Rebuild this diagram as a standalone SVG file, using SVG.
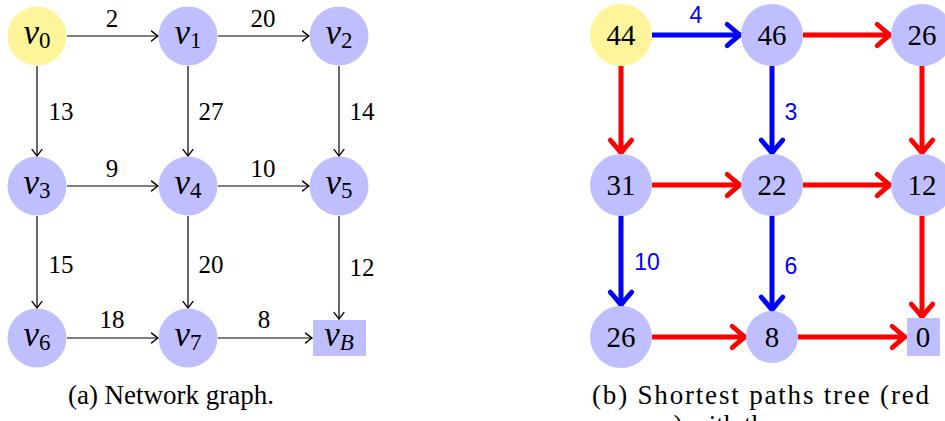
<svg xmlns="http://www.w3.org/2000/svg" width="945" height="421" viewBox="0 0 945 421">
<style>
.bg{fill:#ffffff}
.ny{fill:#fef59b}
.nb{fill:#bfbfff}
.e{stroke:#000;stroke-width:1.2;fill:none;marker-end:url(#ta)}
.r{stroke:#ff0000;stroke-width:5;fill:none;marker-end:url(#ra)}
.b{stroke:#0000ff;stroke-width:5;fill:none;marker-end:url(#ba)}
.lab{font-family:"Liberation Serif","Times New Roman",serif;font-size:25px;fill:#000;text-anchor:middle}
.v{font-family:"Liberation Serif","Times New Roman",serif;font-size:35px;font-style:italic;fill:#000;text-anchor:middle}
.sub{font-size:23px;font-style:normal}
.subi{font-size:23px;font-style:italic}
.num{font-family:"Liberation Serif","Times New Roman",serif;font-size:29px;fill:#000;text-anchor:middle}
.bl{font-family:"Liberation Sans","Arial",sans-serif;font-size:23px;fill:#0000ff;text-anchor:middle}
.cap{font-family:"Liberation Serif","Times New Roman",serif;font-size:27px;fill:#000}
</style>
<defs>
<marker id="ta" markerUnits="userSpaceOnUse" markerWidth="14" markerHeight="14" viewBox="-8 -6 10 12" refX="0" refY="0" orient="auto">
<path d="M-5.5,-4.2 Q-1.5,-1 0,0 Q-1.5,1 -5.5,4.2" fill="none" stroke="#000" stroke-width="1.2" stroke-linecap="round"/>
</marker>
<marker id="ra" markerUnits="userSpaceOnUse" markerWidth="30" markerHeight="30" viewBox="-16 -14 20 28" refX="0" refY="0" orient="auto">
<path d="M-12,-10 Q-4,-3 0,0 Q-4,3 -12,10" fill="none" stroke="#ff0000" stroke-width="4.5" stroke-linecap="round" stroke-linejoin="round"/>
</marker>
<marker id="ba" markerUnits="userSpaceOnUse" markerWidth="30" markerHeight="30" viewBox="-16 -14 20 28" refX="0" refY="0" orient="auto">
<path d="M-12,-10 Q-4,-3 0,0 Q-4,3 -12,10" fill="none" stroke="#0000ff" stroke-width="4.5" stroke-linecap="round" stroke-linejoin="round"/>
</marker>
</defs>
<rect class="bg" x="0" y="0" width="945" height="421"/>

<g id="connectors-a">
<line class="e" x1="67" y1="36" x2="158" y2="36"/>
<line class="e" x1="218" y1="36" x2="309" y2="36"/>
<line class="e" x1="37" y1="66" x2="37" y2="156"/>
<line class="e" x1="188" y1="66" x2="188" y2="156"/>
<line class="e" x1="339" y1="66" x2="339" y2="156"/>
<line class="e" x1="67" y1="186" x2="158" y2="186"/>
<line class="e" x1="218" y1="186" x2="309" y2="186"/>
<line class="e" x1="37" y1="216" x2="37" y2="308"/>
<line class="e" x1="188" y1="216" x2="188" y2="308"/>
<line class="e" x1="339" y1="216" x2="339" y2="319"/>
<line class="e" x1="67" y1="338" x2="158" y2="338"/>
<line class="e" x1="218" y1="338" x2="312" y2="338"/>
<text class="lab" x="112" y="27">2</text>
<text class="lab" x="263" y="27">20</text>
<text class="lab" x="61" y="120">13</text>
<text class="lab" x="211" y="120">27</text>
<text class="lab" x="362" y="120">14</text>
<text class="lab" x="112" y="177">9</text>
<text class="lab" x="263" y="177">10</text>
<text class="lab" x="61" y="273">15</text>
<text class="lab" x="211" y="273">20</text>
<text class="lab" x="362" y="276">12</text>
<text class="lab" x="112" y="328">18</text>
<text class="lab" x="264" y="328">8</text>
</g>

<g id="a-v0"><circle class="ny" cx="37" cy="36" r="29.5"/><text class="v" x="37" y="44">v<tspan class="sub" dy="4">0</tspan></text></g>
<g id="a-v1"><circle class="nb" cx="188" cy="36" r="29.5"/><text class="v" x="188" y="44">v<tspan class="sub" dy="4">1</tspan></text></g>
<g id="a-v2"><circle class="nb" cx="339" cy="36" r="29.5"/><text class="v" x="339" y="44">v<tspan class="sub" dy="4">2</tspan></text></g>
<g id="a-v3"><circle class="nb" cx="37" cy="186" r="29.5"/><text class="v" x="37" y="194">v<tspan class="sub" dy="4">3</tspan></text></g>
<g id="a-v4"><circle class="nb" cx="188" cy="186" r="29.5"/><text class="v" x="188" y="194">v<tspan class="sub" dy="4">4</tspan></text></g>
<g id="a-v5"><circle class="nb" cx="339" cy="186" r="29.5"/><text class="v" x="339" y="194">v<tspan class="sub" dy="4">5</tspan></text></g>
<g id="a-v6"><circle class="nb" cx="37" cy="338" r="29.5"/><text class="v" x="37" y="346">v<tspan class="sub" dy="4">6</tspan></text></g>
<g id="a-v7"><circle class="nb" cx="188" cy="338" r="29.5"/><text class="v" x="188" y="346">v<tspan class="sub" dy="4">7</tspan></text></g>
<g id="a-vB"><rect class="nb" x="313" y="320" width="53" height="36"/><text class="v" x="339" y="346">v<tspan class="subi" dy="4">B</tspan></text></g>

<text class="cap" x="171" y="404" text-anchor="middle">(a) Network graph.</text>

<g id="connectors-b">
<line class="b" x1="652" y1="35" x2="740" y2="35"/>
<line class="r" x1="803" y1="35" x2="890" y2="35"/>
<line class="r" x1="621" y1="66" x2="621" y2="153"/>
<line class="b" x1="772" y1="66" x2="772" y2="153"/>
<line class="r" x1="922" y1="66" x2="922" y2="153"/>
<line class="r" x1="652" y1="185" x2="740" y2="185"/>
<line class="r" x1="803" y1="185" x2="890" y2="185"/>
<line class="b" x1="621" y1="216" x2="621" y2="305"/>
<line class="b" x1="772" y1="216" x2="772" y2="310"/>
<line class="r" x1="922" y1="216" x2="922" y2="317"/>
<line class="r" x1="652" y1="337" x2="745" y2="337"/>
<line class="r" x1="798" y1="337" x2="905" y2="337"/>
<text class="bl" x="696" y="23">4</text>
<text class="bl" x="791" y="120">3</text>
<text class="bl" x="647" y="270">10</text>
<text class="bl" x="791" y="274">6</text>
</g>

<g id="b-44"><circle class="ny" cx="621" cy="35" r="31"/><text class="num" x="621" y="45">44</text></g>
<g id="b-46"><circle class="nb" cx="772" cy="35" r="31"/><text class="num" x="772" y="45">46</text></g>
<g id="b-26a"><circle class="nb" cx="922" cy="35" r="31"/><text class="num" x="922" y="45">26</text></g>
<g id="b-31"><circle class="nb" cx="621" cy="185" r="31"/><text class="num" x="621" y="195">31</text></g>
<g id="b-22"><circle class="nb" cx="772" cy="185" r="31"/><text class="num" x="772" y="195">22</text></g>
<g id="b-12"><circle class="nb" cx="922" cy="185" r="31"/><text class="num" x="922" y="195">12</text></g>
<g id="b-26b"><circle class="nb" cx="621" cy="337" r="31"/><text class="num" x="621" y="347">26</text></g>
<g id="b-8"><circle class="nb" cx="772" cy="337" r="26"/><text class="num" x="772" y="347">8</text></g>
<g id="b-0"><rect class="nb" x="907" y="318" width="33" height="38"/><text class="num" x="923" y="347">0</text></g>

<text class="cap" x="592" y="404" textLength="337" lengthAdjust="spacing">(b) Shortest paths tree (red</text>
<text class="cap" x="630" y="434" font-size="25">arcs) with the</text>
</svg>
